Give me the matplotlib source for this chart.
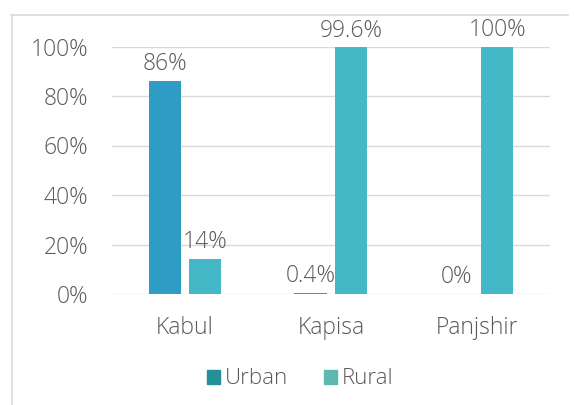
import matplotlib
matplotlib.use("Agg")
import matplotlib.pyplot as plt
from matplotlib.patches import Patch
from matplotlib.lines import Line2D
import numpy as np

categories = ["Kabul", "Kapisa", "Panjshir"]
urban = [86, 0.4, 0]
rural = [14, 99.6, 100]
urban_labels = ["86%", "0.4%", "0%"]
rural_labels = ["14%", "99.6%", "100%"]
yticks = [0, 20, 40, 60, 80, 100]
ytick_labels = ["0%", "20%", "40%", "60%", "80%", "100%"]

plt.rcParams['font.family'] = ['Open Sans', 'DejaVu Sans']
plt.rcParams['font.weight'] = 300
W, H = 574, 405
fig = plt.figure(figsize=(W / 100, H / 100), dpi=100)
ax = fig.add_axes([112 / W, 1 - 294 / H, 438 / W, (294 - 46.5) / H])

x = np.arange(len(categories))
bw = 0.22
off = 0.14
c_urban = "#2E9CC4"
c_rural = "#45B8C8"
txt = "#595959"
fs = 16.5

ax.bar(x - off, urban, bw, color=c_urban, zorder=2)
ax.bar(x + off, rural, bw, color=c_rural, zorder=2)

for i in range(len(categories)):
    ax.text(x[i] - off, urban[i] + 2, urban_labels[i], ha="center", va="bottom",
            fontsize=fs, color=txt, zorder=3)
    ax.text(x[i] + off, rural[i] + 2, rural_labels[i], ha="center", va="bottom",
            fontsize=fs, color=txt, zorder=3)

ax.set_xlim(-0.5, 2.5)
ax.set_ylim(0, 100)
ax.set_yticks(yticks)
ax.set_yticklabels(ytick_labels, fontsize=fs, color=txt)
ax.set_xticks(x)
ax.set_xticklabels(categories, fontsize=fs, color=txt)
ax.tick_params(axis="both", length=0)
ax.tick_params(axis="y", pad=17)
ax.tick_params(axis="x", pad=16)
ax.grid(axis="y", color="#d9d9d9", linewidth=1, zorder=0)
for s in ax.spines.values():
    s.set_visible(False)
ax.set_axisbelow(True)

handles = [Patch(color="#23909A"), Patch(color="#5DB8B0")]
fig.legend(handles, ["Urban", "Rural"], loc="center", bbox_to_anchor=(300 / W, 1 - 379 / H),
           ncol=2, frameon=False, fontsize=16, labelcolor=txt,
           handlelength=0.6, handleheight=0.6, handletextpad=0.2, columnspacing=1.6)

# frame lines
fig.add_artist(Line2D([11 / W, 568 / W], [1 - 15 / H, 1 - 15 / H], color="#d9d9d9", lw=1.2))
fig.add_artist(Line2D([12 / W, 12 / W], [1 - 15 / H, 0], color="#d9d9d9", lw=1.2))

fig.savefig("out.png", dpi=100)
